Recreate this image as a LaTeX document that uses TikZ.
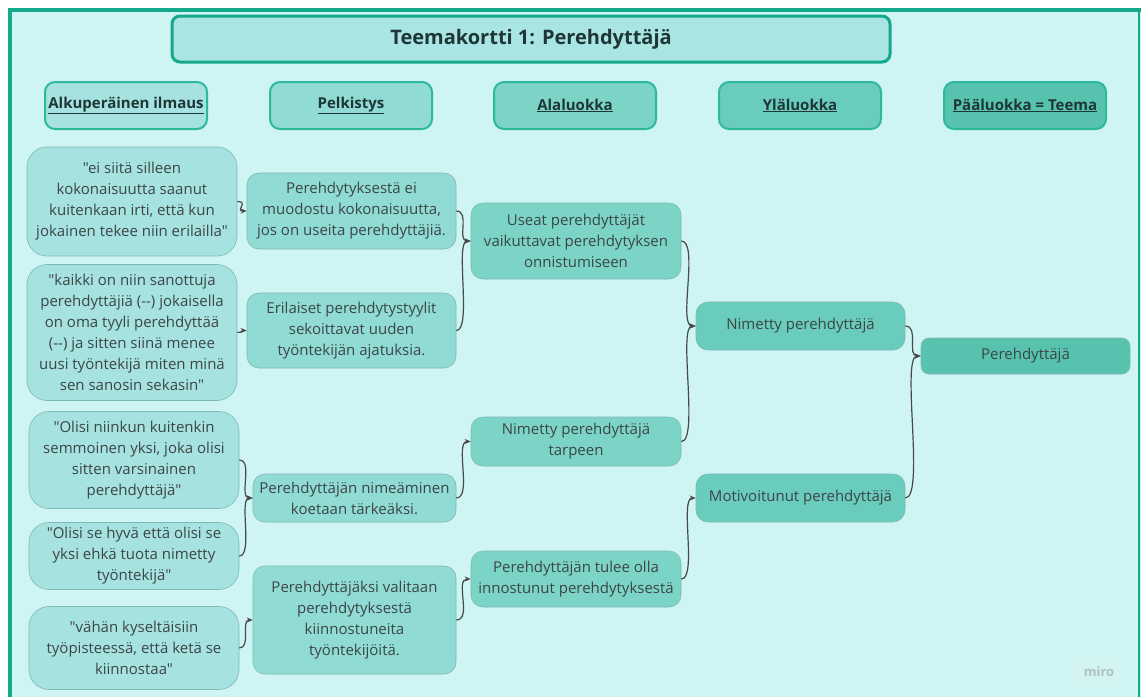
\documentclass[tikz,border=0pt]{standalone}
\usepackage{fontspec}
\setmainfont{Open Sans}[Ligatures=TeXOff]
\usetikzlibrary{arrows.meta}

\definecolor{framebg}{HTML}{CFF4F4}
\definecolor{frameline}{HTML}{14A98B}
\definecolor{titlefill}{HTML}{A9E5E2}
\definecolor{headline}{HTML}{2DB99B}
\definecolor{colA}{HTML}{A6E2DF}
\definecolor{colB}{HTML}{90DBD4}
\definecolor{colC}{HTML}{7CD4C6}
\definecolor{colD}{HTML}{69CCBC}
\definecolor{colE}{HTML}{57C3AF}
\definecolor{boxline}{HTML}{7DB9B1}
\definecolor{txt}{HTML}{3C4646}
\definecolor{headtxt}{HTML}{1E3636}
\definecolor{arrowgray}{HTML}{484848}
\definecolor{mirotxt}{HTML}{AFC1C3}
\definecolor{mirofill}{HTML}{D4F3F3}

\begin{document}
\begin{tikzpicture}[x=1pt, y=-1pt,
    card/.style={draw=boxline, line width=0.6pt, rounded corners=12pt, align=center,
      inner sep=0pt, text=txt, font=\fontsize{15}{21}\selectfont},
    quote/.style={card, fill=colA, rounded corners=20pt, minimum width=210pt},
    reduced/.style={card, fill=colB},
    subcat/.style={card, fill=colC, minimum width=210pt},
    upcat/.style={card, fill=colD, minimum width=209pt, minimum height=48pt},
    head/.style={draw=headline, line width=2pt, rounded corners=10pt, minimum width=162pt,
      minimum height=47pt, text=headtxt, font=\fontsize{15}{18}\selectfont\bfseries},
    conn/.style={arrowgray, line width=1.2pt, -{Stealth[length=6pt,width=5pt]}}]

    % Frame
    \fill[white] (0,0) rectangle (1141,697);
    \useasboundingbox (0,0) rectangle (1141,697);
    \fill[framebg] (8,8) rectangle (1141,697);
    \draw[frameline, line width=4pt] (8,10) -- (1141,10);
    \draw[frameline, line width=4pt] (10,8) -- (10,697);
    \draw[frameline, line width=2pt] (1139,8) -- (1139,697);

    % Title
    \node[draw=frameline, line width=3pt, fill=titlefill, rounded corners=8pt,
      minimum width=718pt, minimum height=46pt, text=headtxt,
      font=\fontsize{20}{24}\selectfont\bfseries] (title) at (531,39)
      {Teemakortti 1: Perehdyttäjä};

    % Column headers
    \node[head, fill=colA] (h1) at (126,105.5) {\underline{Alkuperäinen ilmaus}};
    \node[head, fill=colB] (h2) at (351,105.5) {\underline{Pelkistys}};
    \node[head, fill=colC] (h3) at (575,105.5) {\underline{Alaluokka}};
    \node[head, fill=colD] (h4) at (800,105.5) {\underline{Yläluokka}};
    \node[head, fill=colE] (h5) at (1025,105.5) {\underline{Pääluokka = Teema}};

    % Original quotes
    \node[quote, minimum height=109pt] (q1) at (132,201.5)
      {"ei siitä silleen\\kokonaisuutta saanut\\kuitenkaan irti, että kun\\jokainen tekee niin erilailla"};
    \node[quote, minimum height=136pt] (q2) at (132,332.5)
      {"kaikki on niin sanottuja\\perehdyttäjiä (--) jokaisella\\on oma tyyli perehdyttää\\(--) ja sitten siinä menee\\uusi työntekijä miten minä\\sen sanosin sekasin"};
    \node[quote, minimum height=97pt] (q3) at (134,460)
      {"Olisi niinkun kuitenkin\\semmoinen yksi, joka olisi\\sitten varsinainen\\perehdyttäjä"};
    \node[quote, minimum height=67pt] (q4) at (134,556)
      {"Olisi se hyvä että olisi se\\yksi ehkä tuota nimetty\\työntekijä"};
    \node[quote, minimum height=83pt] (q5) at (134,648)
      {"vähän kyseltäisiin\\työpisteessä, että ketä se\\kiinnostaa"};

    % Reduced expressions
    \node[reduced, minimum width=209pt, minimum height=76pt] (p1) at (351.5,211)
      {Perehdytyksestä ei\\muodostu kokonaisuutta,\\jos on useita perehdyttäjiä.};
    \node[reduced, minimum width=209pt, minimum height=75pt] (p2) at (351.5,330.5)
      {Erilaiset perehdytystyylit\\sekoittavat uuden\\työntekijän ajatuksia.};
    \node[reduced, minimum width=203pt, minimum height=48pt] (p3) at (354.5,498)
      {Perehdyttäjän nimeäminen\\koetaan tärkeäksi.};
    \node[reduced, minimum width=203pt, minimum height=108pt] (p4) at (354.5,620)
      {Perehdyttäjäksi valitaan\\perehdytyksestä\\kiinnostuneita\\työntekijöitä.};

    % Subcategories
    \node[subcat, minimum height=76pt] (a1) at (576,241)
      {Useat perehdyttäjät\\vaikuttavat perehdytyksen\\onnistumiseen};
    \node[subcat, minimum height=49pt] (a2) at (576,441.5)
      {Nimetty perehdyttäjä\\tarpeen};
    \node[subcat, minimum height=56pt] (a3) at (576,579)
      {Perehdyttäjän tulee olla\\innostunut perehdytyksestä};

    % Upper categories
    \node[upcat] (y1) at (800.5,326) {Nimetty perehdyttäjä};
    \node[upcat] (y2) at (800.5,498) {Motivoitunut perehdyttäjä};

    % Main category
    \node[card, fill=colE, rounded corners=8pt, minimum width=209pt, minimum height=36pt]
      (main) at (1025.5,356) {Perehdyttäjä};

    % Connectors
    \draw[conn] (q1.east) .. controls +(12,0) and +(-12,0) .. (p1.west);
    \draw[conn] (q2.east) .. controls +(5,0) and +(-5,0) .. (p2.west);
    \draw[conn] (q3.east) .. controls +(14,0) and +(-14,0) .. (p3.west);
    \draw[conn] (q4.east) .. controls +(14,0) and +(-14,0) .. (p3.west);
    \draw[conn] (q5.east) .. controls +(12,0) and +(-12,0) .. (p4.west);

    \draw[conn] (p1.east) .. controls +(14,0) and +(-14,0) .. (a1.west);
    \draw[conn] (p2.east) .. controls +(16,0) and +(-16,0) .. (a1.west);
    \draw[conn] (p3.east) .. controls +(16,0) and +(-16,0) .. (a2.west);
    \draw[conn] (p4.east) .. controls +(16,0) and +(-16,0) .. (a3.west);

    \draw[conn] (a1.east) .. controls +(18,0) and +(-18,0) .. (y1.west);
    \draw[conn] (a2.east) .. controls +(18,0) and +(-18,0) .. (y1.west);
    \draw[conn] (a3.east) .. controls +(16,0) and +(-16,0) .. (y2.west);

    \draw[conn] (y1.east) .. controls +(14,0) and +(-14,0) .. (main.west);
    \draw[conn] (y2.east) .. controls +(20,0) and +(-20,0) .. (main.west);

    % Watermark
    \node[fill=mirofill, text=mirotxt, minimum width=52pt, minimum height=28pt,
      font=\fontsize{13}{13}\selectfont\bfseries] (logo) at (1099,672) {miro};
\end{tikzpicture}
\end{document}
